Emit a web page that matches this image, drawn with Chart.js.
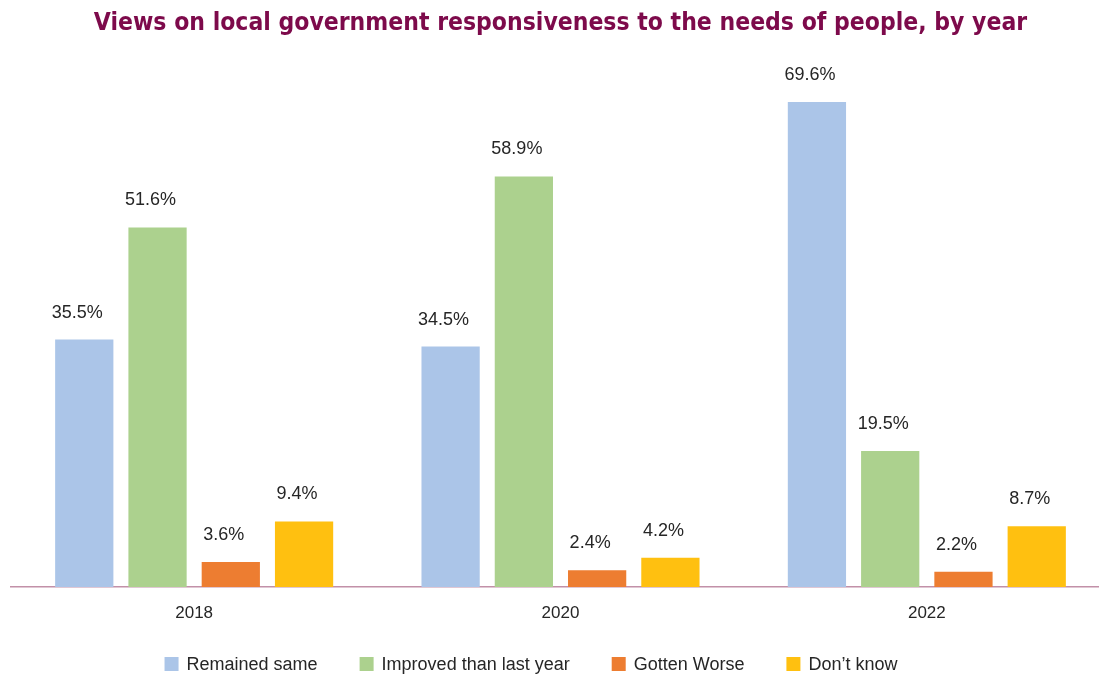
<!DOCTYPE html>
<html lang="en">
<head>
  <meta charset="UTF-8">
  <title>Local government responsiveness</title>
  <script src="https://cdn.jsdelivr.net/npm/chart.js"></script>
  <style>
    html, body { margin: 0; padding: 0; background: #fff; overflow: hidden; }
    .wrap { width: 1110px; height: 677px; position: relative; }
  </style>
</head>
<body>
  <div class="wrap"><canvas id="respChart"></canvas></div>

  <script>
    const years = ['2018', '2020', '2022'];
    const remainedSame = [35.5, 34.5, 69.6];
    const improved = [51.6, 58.9, 19.5];
    const gottenWorse = [3.6, 2.4, 2.2];
    const dontKnow = [9.4, 4.2, 8.7];
    const seriesNames = ['Remained same', 'Improved than last year', 'Gotten Worse', 'Don\u2019t know'];
    const seriesColors = ['#abc5e8', '#acd18e', '#ed7d31', '#ffc010'];

    const baseFont = "'Liberation Sans', Arial, sans-serif";

    // writes each bar's value just above it
    const valueLabels = {
      id: 'valueLabels',
      afterDatasetsDraw(chart) {
        const ctx = chart.ctx;
        ctx.save();
        ctx.font = '18px ' + baseFont;
        ctx.fillStyle = '#262626';
        ctx.textAlign = 'center';
        ctx.textBaseline = 'middle';
        chart.data.datasets.forEach((ds, i) => {
          chart.getDatasetMeta(i).data.forEach((bar, j) => {
            ctx.fillText(ds.data[j].toFixed(1) + '%', bar.x - 7, bar.y - 27);
          });
        });
        ctx.restore();
      }
    };

    // one-row legend under the year labels, built from the datasets
    const bottomLegend = {
      id: 'bottomLegend',
      afterDraw(chart) {
        const ctx = chart.ctx;
        const box = 14, gap = 8, spacing = 42, centerX = 531, y = 664;
        ctx.save();
        ctx.font = '18px ' + baseFont;
        ctx.textBaseline = 'middle';
        ctx.textAlign = 'left';
        const items = chart.data.datasets.map(ds => ({
          text: ds.label, color: ds.backgroundColor, w: ctx.measureText(ds.label).width
        }));
        const total = items.reduce((s, it) => s + box + gap + it.w, 0) + spacing * (items.length - 1);
        let x = centerX - total / 2;
        items.forEach(it => {
          ctx.fillStyle = it.color;
          ctx.fillRect(x, y - box / 2, box, box);
          ctx.fillStyle = '#262626';
          ctx.fillText(it.text, x + box + gap, y + 1);
          x += box + gap + it.w + spacing;
        });
        ctx.restore();
      }
    };

    const datasets = [remainedSame, improved, gottenWorse, dontKnow].map((vals, i) => ({
      label: seriesNames[i],
      data: vals,
      backgroundColor: seriesColors[i],
      barPercentage: 0.795,
      categoryPercentage: 0.8
    }));

    new Chart(document.getElementById('respChart'), {
      type: 'bar',
      data: { labels: years, datasets: datasets },
      options: {
        responsive: true,
        maintainAspectRatio: false,
        animation: false,
        layout: { padding: { left: 11, right: 0, top: 0, bottom: 50 } },
        plugins: {
          title: {
            display: true,
            text: 'Views on local government responsiveness to the needs of people, by year',
            color: '#7d0a4b',
            font: { family: "'DejaVu Sans Condensed', 'Liberation Sans Narrow', sans-serif", size: 24.5, weight: 'bold' },
            padding: { top: 9, bottom: 5 }
          },
          legend: { display: false },
          tooltip: { enabled: false }
        },
        scales: {
          x: {
            grid: { display: false, drawTicks: false },
            // dotted baseline
            border: { display: true, color: '#c290a8', width: 1.5, dash: [1.5, 1.5] },
            ticks: { color: '#262626', padding: 16, font: { family: baseFont, size: 17 } },
            afterFit(scale) { scale.height = 40; }
          },
          y: {
            display: false,
            min: 0,
            max: 78
          }
        }
      },
      plugins: [valueLabels, bottomLegend]
    });
  </script>
</body>
</html>
